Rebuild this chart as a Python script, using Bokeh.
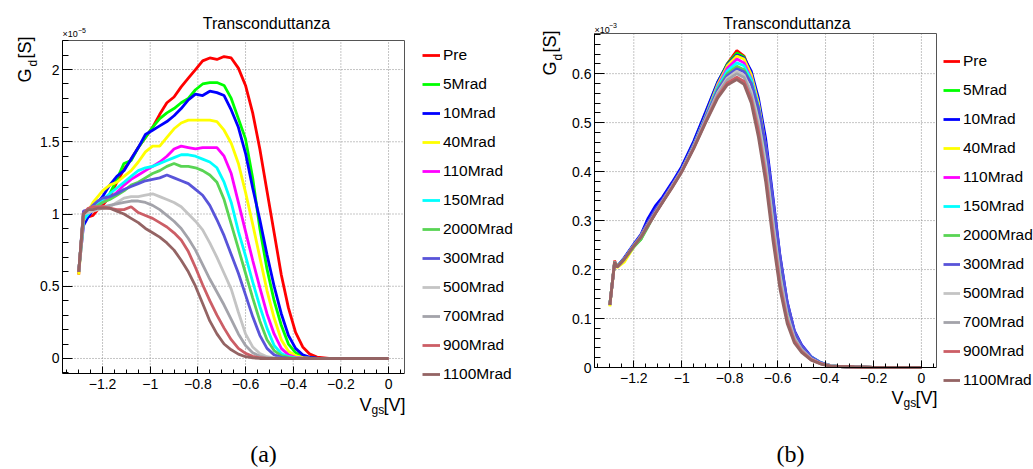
import numpy as np
from bokeh.plotting import figure
from bokeh.models import Range1d, FixedTicker, Legend, LegendItem, Label, LinearAxis
from bokeh.layouts import row
from bokeh.embed import file_html
from bokeh.resources import INLINE

# ---------------- data ----------------
series_labels = ["Pre", "5Mrad", "10Mrad", "40Mrad", "110Mrad", "150Mrad",
                 "2000Mrad", "300Mrad", "500Mrad", "700Mrad", "900Mrad", "1100Mrad"]
series_colors = ["#ff0000", "#00ff00", "#0000ff", "#ffff00", "#ff00ff", "#00ffff",
                 "#59d454", "#5954d9", "#c4c4c4", "#a3a3aa", "#cc5e66", "#946464"]

# panel (a): Vgs [V] and Gd in units of 1e-5 S
vgs_a = [-1.30, -1.28, -1.26, -1.24, -1.22, -1.20, -1.17, -1.14, -1.11, -1.08,
         -1.05, -1.02, -0.99, -0.96, -0.93, -0.90, -0.87, -0.84, -0.81, -0.78,
         -0.75, -0.72, -0.69, -0.66, -0.63, -0.60, -0.57, -0.54, -0.51, -0.48,
         -0.45, -0.42, -0.39, -0.36, -0.33, -0.30, -0.25, -0.20, -0.10, 0.00]
gd_a_pre = [0.58, 1.02, 0.98, 0.99, 1.03, 1.06, 1.12, 1.22, 1.31, 1.38,
            1.46, 1.53, 1.60, 1.69, 1.77, 1.81, 1.88, 1.94, 2.00, 2.06,
            2.08, 2.07, 2.09, 2.08, 2.01, 1.89, 1.70, 1.45, 1.16, 0.87,
            0.58, 0.35, 0.18, 0.08, 0.03, 0.01, 0.0, 0.0, 0.0, 0.0]
gd_a_5 = [0.60, 1.00, 1.02, 1.04, 1.06, 1.08, 1.14, 1.24, 1.35, 1.37,
          1.46, 1.53, 1.60, 1.66, 1.70, 1.73, 1.77, 1.80, 1.86, 1.90,
          1.91, 1.91, 1.89, 1.80, 1.66, 1.52, 1.25, 0.90, 0.62, 0.40,
          0.23, 0.10, 0.04, 0.015, 0.005, 0.0, 0.0, 0.0, 0.0, 0.0]
gd_a_10 = [0.60, 0.92, 0.98, 1.03, 1.08, 1.12, 1.20, 1.26, 1.30, 1.38,
           1.46, 1.55, 1.58, 1.61, 1.64, 1.68, 1.73, 1.79, 1.83, 1.82,
           1.85, 1.84, 1.82, 1.72, 1.60, 1.42, 1.18, 0.96, 0.72, 0.50,
           0.31, 0.16, 0.07, 0.025, 0.008, 0.002, 0.0, 0.0, 0.0, 0.0]
gd_a_40 = [0.58, 0.95, 1.02, 1.08, 1.12, 1.16, 1.20, 1.22, 1.26, 1.30,
           1.36, 1.43, 1.47, 1.47, 1.53, 1.59, 1.63, 1.65, 1.65, 1.65,
           1.65, 1.64, 1.58, 1.49, 1.35, 1.15, 0.93, 0.70, 0.47, 0.28,
           0.13, 0.05, 0.02, 0.006, 0.002, 0.0, 0.0, 0.0, 0.0, 0.0]
gd_a_110 = [0.60, 0.98, 1.00, 1.03, 1.06, 1.08, 1.11, 1.15, 1.20, 1.24,
            1.27, 1.30, 1.33, 1.36, 1.40, 1.45, 1.47, 1.46, 1.45, 1.46,
            1.46, 1.46, 1.40, 1.28, 1.08, 0.88, 0.68, 0.49, 0.31, 0.17,
            0.07, 0.025, 0.008, 0.003, 0.0, 0.0, 0.0, 0.0, 0.0, 0.0]
gd_a_150 = [0.60, 0.96, 1.00, 1.04, 1.07, 1.10, 1.14, 1.18, 1.22, 1.26,
            1.30, 1.32, 1.33, 1.35, 1.37, 1.39, 1.41, 1.41, 1.40, 1.38,
            1.36, 1.32, 1.22, 1.08, 0.88, 0.71, 0.53, 0.36, 0.21, 0.09,
            0.035, 0.012, 0.004, 0.0, 0.0, 0.0, 0.0, 0.0, 0.0, 0.0]
gd_a_2000 = [0.60, 1.00, 1.02, 1.04, 1.06, 1.08, 1.10, 1.13, 1.16, 1.20,
             1.22, 1.25, 1.28, 1.30, 1.33, 1.35, 1.33, 1.33, 1.32, 1.30,
             1.27, 1.22, 1.10, 0.93, 0.76, 0.59, 0.42, 0.26, 0.13, 0.055,
             0.02, 0.007, 0.002, 0.0, 0.0, 0.0, 0.0, 0.0, 0.0, 0.0]
gd_a_300 = [0.60, 1.02, 1.03, 1.06, 1.09, 1.11, 1.12, 1.14, 1.17, 1.19,
            1.21, 1.23, 1.24, 1.25, 1.27, 1.25, 1.23, 1.21, 1.17, 1.13,
            1.06, 0.96, 0.85, 0.72, 0.59, 0.44, 0.29, 0.16, 0.07, 0.025,
            0.008, 0.002, 0.0, 0.0, 0.0, 0.0, 0.0, 0.0, 0.0, 0.0]
gd_a_500 = [0.60, 1.00, 1.01, 1.02, 1.03, 1.04, 1.05, 1.08, 1.11, 1.12,
            1.12, 1.13, 1.14, 1.12, 1.10, 1.08, 1.05, 1.00, 0.95, 0.89,
            0.80, 0.70, 0.59, 0.48, 0.32, 0.17, 0.08, 0.035, 0.012, 0.004,
            0.001, 0.0, 0.0, 0.0, 0.0, 0.0, 0.0, 0.0, 0.0, 0.0]
gd_a_700 = [0.60, 1.00, 1.03, 1.05, 1.05, 1.05, 1.06, 1.07, 1.08, 1.09,
            1.09, 1.08, 1.06, 1.03, 0.99, 0.95, 0.90, 0.83, 0.75, 0.65,
            0.55, 0.46, 0.37, 0.27, 0.17, 0.09, 0.04, 0.015, 0.005, 0.0,
            0.0, 0.0, 0.0, 0.0, 0.0, 0.0, 0.0, 0.0, 0.0, 0.0]
gd_a_900 = [0.60, 1.00, 1.04, 1.05, 1.05, 1.05, 1.04, 1.03, 1.03, 1.05,
            1.01, 0.99, 0.97, 0.94, 0.91, 0.87, 0.82, 0.74, 0.63, 0.51,
            0.40, 0.30, 0.21, 0.13, 0.07, 0.035, 0.015, 0.005, 0.0, 0.0,
            0.0, 0.0, 0.0, 0.0, 0.0, 0.0, 0.0, 0.0, 0.0, 0.0]
gd_a_1100 = [0.60, 1.00, 1.03, 1.03, 1.04, 1.04, 1.04, 1.02, 1.00, 0.97,
             0.94, 0.90, 0.87, 0.84, 0.80, 0.75, 0.68, 0.60, 0.50, 0.38,
             0.26, 0.17, 0.10, 0.06, 0.03, 0.012, 0.004, 0.0, 0.0, 0.0,
             0.0, 0.0, 0.0, 0.0, 0.0, 0.0, 0.0, 0.0, 0.0, 0.0]

# panel (b): Vgs [V] and Gd in units of 1e-3 S
vgs_b = [-1.30, -1.28, -1.27, -1.24, -1.20, -1.17, -1.14, -1.11, -1.08, -1.04,
         -1.00, -0.95, -0.90, -0.85, -0.81, -0.77, -0.74, -0.71, -0.68, -0.65,
         -0.62, -0.59, -0.56, -0.53, -0.50, -0.46, -0.42, -0.38, -0.34, -0.28,
         -0.20, -0.10, 0.00]
gd_b_pre = [0.128, 0.218, 0.205, 0.222, 0.250, 0.268, 0.295, 0.318, 0.340, 0.372,
            0.405, 0.455, 0.515, 0.580, 0.620, 0.647, 0.636, 0.600, 0.535, 0.445,
            0.322, 0.205, 0.118, 0.066, 0.040, 0.020, 0.009, 0.004, 0.002, 0.001,
            0.0, 0.0, 0.0]
gd_b_5 = [0.130, 0.215, 0.207, 0.220, 0.248, 0.262, 0.292, 0.320, 0.342, 0.375,
          0.408, 0.460, 0.520, 0.582, 0.620, 0.642, 0.634, 0.600, 0.537, 0.448,
          0.326, 0.208, 0.120, 0.067, 0.041, 0.020, 0.009, 0.004, 0.002, 0.001,
          0.0, 0.0, 0.0]
gd_b_10 = [0.127, 0.214, 0.206, 0.224, 0.252, 0.272, 0.305, 0.330, 0.348, 0.378,
           0.410, 0.462, 0.522, 0.583, 0.618, 0.638, 0.632, 0.605, 0.550, 0.468,
           0.350, 0.228, 0.134, 0.075, 0.046, 0.022, 0.010, 0.004, 0.002, 0.001,
           0.0, 0.0, 0.0]
gd_b_40 = [0.125, 0.212, 0.204, 0.215, 0.246, 0.270, 0.296, 0.319, 0.341, 0.372,
           0.404, 0.455, 0.514, 0.578, 0.616, 0.636, 0.630, 0.598, 0.540, 0.452,
           0.330, 0.211, 0.122, 0.068, 0.041, 0.020, 0.009, 0.004, 0.002, 0.001,
           0.0, 0.0, 0.0]
gd_b_110 = [0.128, 0.214, 0.205, 0.221, 0.249, 0.266, 0.290, 0.315, 0.339, 0.370,
            0.403, 0.453, 0.512, 0.574, 0.611, 0.630, 0.622, 0.590, 0.530, 0.443,
            0.322, 0.205, 0.118, 0.066, 0.040, 0.019, 0.009, 0.004, 0.002, 0.001,
            0.0, 0.0, 0.0]
gd_b_150 = [0.128, 0.216, 0.206, 0.222, 0.250, 0.268, 0.293, 0.317, 0.340, 0.371,
            0.404, 0.454, 0.512, 0.572, 0.606, 0.622, 0.616, 0.588, 0.532, 0.448,
            0.335, 0.215, 0.126, 0.070, 0.042, 0.021, 0.010, 0.004, 0.002, 0.001,
            0.0, 0.0, 0.0]
gd_b_2000 = [0.128, 0.215, 0.205, 0.221, 0.246, 0.262, 0.288, 0.316, 0.338, 0.370,
             0.402, 0.452, 0.510, 0.568, 0.600, 0.615, 0.608, 0.580, 0.524, 0.440,
             0.325, 0.208, 0.121, 0.068, 0.041, 0.020, 0.009, 0.004, 0.002, 0.001,
             0.0, 0.0, 0.0]
gd_b_300 = [0.128, 0.214, 0.205, 0.222, 0.250, 0.270, 0.297, 0.322, 0.343, 0.373,
            0.405, 0.454, 0.511, 0.566, 0.596, 0.610, 0.604, 0.580, 0.530, 0.455,
            0.345, 0.226, 0.133, 0.074, 0.045, 0.021, 0.010, 0.004, 0.002, 0.001,
            0.0, 0.0, 0.0]
gd_b_500 = [0.128, 0.215, 0.205, 0.221, 0.249, 0.267, 0.292, 0.316, 0.339, 0.370,
            0.402, 0.451, 0.507, 0.561, 0.591, 0.605, 0.597, 0.564, 0.504, 0.418,
            0.300, 0.188, 0.108, 0.061, 0.037, 0.018, 0.008, 0.004, 0.002, 0.001,
            0.0, 0.0, 0.0]
gd_b_700 = [0.128, 0.215, 0.205, 0.221, 0.249, 0.267, 0.292, 0.316, 0.339, 0.369,
            0.401, 0.450, 0.505, 0.558, 0.587, 0.600, 0.592, 0.556, 0.492, 0.404,
            0.288, 0.178, 0.102, 0.058, 0.036, 0.017, 0.008, 0.004, 0.002, 0.001,
            0.0, 0.0, 0.0]
gd_b_900 = [0.128, 0.215, 0.205, 0.221, 0.248, 0.266, 0.291, 0.315, 0.338, 0.368,
            0.400, 0.448, 0.502, 0.553, 0.581, 0.593, 0.584, 0.548, 0.482, 0.392,
            0.275, 0.168, 0.096, 0.054, 0.033, 0.016, 0.008, 0.003, 0.002, 0.001,
            0.0, 0.0, 0.0]
gd_b_1100 = [0.128, 0.215, 0.205, 0.221, 0.248, 0.266, 0.290, 0.314, 0.337, 0.367,
             0.399, 0.447, 0.500, 0.550, 0.577, 0.588, 0.578, 0.540, 0.470, 0.380,
             0.262, 0.160, 0.090, 0.050, 0.031, 0.015, 0.007, 0.003, 0.002, 0.001,
             0.0, 0.0, 0.0]

x_ticks = [-1.2, -1.0, -0.8, -0.6, -0.4, -0.2, 0.0]
x_tick_labels = ["\u22121.2", "\u22121", "\u22120.8", "\u22120.6", "\u22120.4", "\u22120.2", "0"]
ya_ticks = [0.0, 0.5, 1.0, 1.5, 2.0]
ya_tick_labels = ["0", "0.5", "1", "1.5", "2"]
yb_ticks = [0.0, 0.1, 0.2, 0.3, 0.4, 0.5, 0.6]
yb_tick_labels = ["0", "0.1", "0.2", "0.3", "0.4", "0.5", "0.6"]

panel_a_series = [gd_a_pre, gd_a_5, gd_a_10, gd_a_40, gd_a_110, gd_a_150,
                  gd_a_2000, gd_a_300, gd_a_500, gd_a_700, gd_a_900, gd_a_1100]
panel_b_series = [gd_b_pre, gd_b_5, gd_b_10, gd_b_40, gd_b_110, gd_b_150,
                  gd_b_2000, gd_b_300, gd_b_500, gd_b_700, gd_b_900, gd_b_1100]

SANS = "Liberation Sans"
SERIF = "Liberation Serif"
FIG_H = 469
BASE_SHIFT = 0.3  # compensation (in em) for where the text baseline lands


def txt(p, x, y_top, text, size, font=SANS, rotated=False, align="left"):
    """x from the figure's left edge, y_top from its top edge (text baseline)."""
    s = float(size.replace("px", ""))
    if rotated:
        x = x - BASE_SHIFT * s
        angle = np.pi / 2
    else:
        y_top = y_top - BASE_SHIFT * s
        angle = 0.0
    p.add_layout(Label(x=x, y=FIG_H - y_top, x_units="screen", y_units="screen",
                       text=text, text_font=font, text_font_size=size, angle=angle,
                       text_align=align, text_baseline="alphabetic", text_color="black"))


def make_panel(fig_w, box, xr, yr, xs, ys_list, yticks, ylabels, y_minor,
               leg_x, leg_top, glyph_w):
    bl, bt, br, bb = box  # plot box in figure pixels: left, top, right, bottom
    sx = (xr[1] - xr[0]) / (br - bl)
    sy = (yr[1] - yr[0]) / (bb - bt)
    xrange = Range1d(xr[0] - bl * sx, xr[1] + (fig_w - br) * sx)
    yrange = Range1d(yr[0] - (FIG_H - bb) * sy, yr[1] + bt * sy)
    p = figure(width=fig_w, height=FIG_H, x_range=xrange, y_range=yrange,
               toolbar_location=None, output_backend="svg",
               background_fill_color="white", border_fill_color="white")
    p.min_border_left = p.min_border_right = p.min_border_top = p.min_border_bottom = 0
    p.outline_line_color = None
    p.xgrid.visible = False
    p.ygrid.visible = False

    # dotted grid at major ticks, inside the plot box
    p.segment(x0=x_ticks, y0=[yr[0]] * len(x_ticks), x1=x_ticks, y1=[yr[1]] * len(x_ticks),
              line_color="#8a8a8a", line_dash="1 2", line_width=1)
    p.segment(x0=[xr[0]] * len(yticks), y0=yticks, x1=[xr[1]] * len(yticks), y1=yticks,
              line_color="#8a8a8a", line_dash="1 2", line_width=1)

    xminor = [v for v in np.round(np.arange(-1.45, 0.1, 0.05), 3) if xr[0] <= v <= xr[1]]
    xa = p.xaxis[0]
    ya = p.yaxis[0]
    xa.fixed_location = yr[0]
    xa.bounds = xr
    ya.fixed_location = xr[0]
    ya.bounds = yr
    xa.ticker = FixedTicker(ticks=x_ticks, minor_ticks=xminor)
    xa.major_label_overrides = {t: l for t, l in zip(x_ticks, x_tick_labels)}
    ya.ticker = FixedTicker(ticks=yticks, minor_ticks=[v for v in y_minor if yr[0] <= v <= yr[1]])
    ya.major_label_overrides = {t: l for t, l in zip(yticks, ylabels)}
    for ax in (xa, ya):
        ax.axis_line_color = "black"
        ax.major_tick_line_color = "black"
        ax.minor_tick_line_color = "black"
        ax.major_tick_out = 0
        ax.minor_tick_out = 0
        ax.major_label_text_font = SANS
        ax.major_label_text_font_size = "14px"
        ax.major_label_text_color = "black"
    xa.major_tick_in = 7
    xa.minor_tick_in = 4
    ya.major_tick_in = 10
    ya.minor_tick_in = 6
    ya.major_label_standoff = 3
    xa.major_label_standoff = 5

    # top and right frame edges
    top = LinearAxis(fixed_location=yr[1], bounds=xr, ticker=FixedTicker(ticks=[]),
                     axis_line_color="#555555")
    right = LinearAxis(fixed_location=xr[1], bounds=yr, ticker=FixedTicker(ticks=[]),
                       axis_line_color="#555555")
    p.add_layout(top, "above")
    p.add_layout(right, "right")

    items = []
    for lab, col, ys in zip(series_labels, series_colors, ys_list):
        r = p.line(xs, ys, line_color=col, line_width=2.8)
        items.append(LegendItem(label=lab, renderers=[r]))
    n = len(items)
    leg_h = n * 20 + (n - 1) * 9
    leg = Legend(items=items, location=(leg_x, FIG_H - leg_top - leg_h), orientation="vertical",
                 glyph_width=glyph_w, glyph_height=20, label_height=20, spacing=9,
                 padding=0, margin=0, label_standoff=3, border_line_color=None,
                 background_fill_alpha=0, label_text_font=SANS,
                 label_text_font_size="15.5px", label_text_color="black")
    p.add_layout(leg, "center")
    return p


ya_minor = list(np.round(np.arange(-0.1, 2.25, 0.1), 3))
yb_minor = list(np.round(np.arange(0.0, 0.69, 0.02), 3))

pa = make_panel(520, (62, 40, 404, 373), (-1.368, 0.067), (-0.104, 2.201),
                vgs_a, panel_a_series, ya_ticks, ya_tick_labels, ya_minor,
                422, 45, 18)
pb = make_panel(513, (74, 33, 416, 367), (-1.364, 0.063), (0.0, 0.682),
                vgs_b, panel_b_series, yb_ticks, yb_tick_labels, yb_minor,
                423, 51, 17)

# ----- panel (a) texts (figure starts at page x = 0) -----
txt(pa, 266, 28, "Transconduttanza", "16px", align="center")
txt(pa, 62, 36.5, "\u00d710", "9px")
txt(pa, 77.5, 32, "\u22125", "7px")
txt(pa, 30, 82, "G", "18px", rotated=True)
txt(pa, 36, 66, "d", "12px", rotated=True)
txt(pa, 30, 58, "[S]", "18px", rotated=True)
txt(pa, 359, 410, "V", "18px")
txt(pa, 371, 413, "gs", "12px")
txt(pa, 383, 410, "[V]", "18px")
txt(pa, 263, 461, "(a)", "24px", font=SERIF, align="center")

# ----- panel (b) texts (figure starts at page x = 520) -----
txt(pb, 266.5, 28, "Transconduttanza", "16px", align="center")
txt(pb, 74, 32, "\u00d710", "9px")
txt(pb, 88.5, 27.5, "\u22123", "7px")
txt(pb, 35, 75, "G", "18px", rotated=True)
txt(pb, 41, 60, "d", "12px", rotated=True)
txt(pb, 35, 52, "[S]", "18px", rotated=True)
txt(pb, 371, 403, "V", "18px")
txt(pb, 383, 406, "gs", "12px")
txt(pb, 395, 403, "[V]", "18px")
txt(pb, 270, 461, "(b)", "24px", font=SERIF, align="center")

layout = row(pa, pb)
open("out.html", "w").write(file_html(layout, INLINE))
